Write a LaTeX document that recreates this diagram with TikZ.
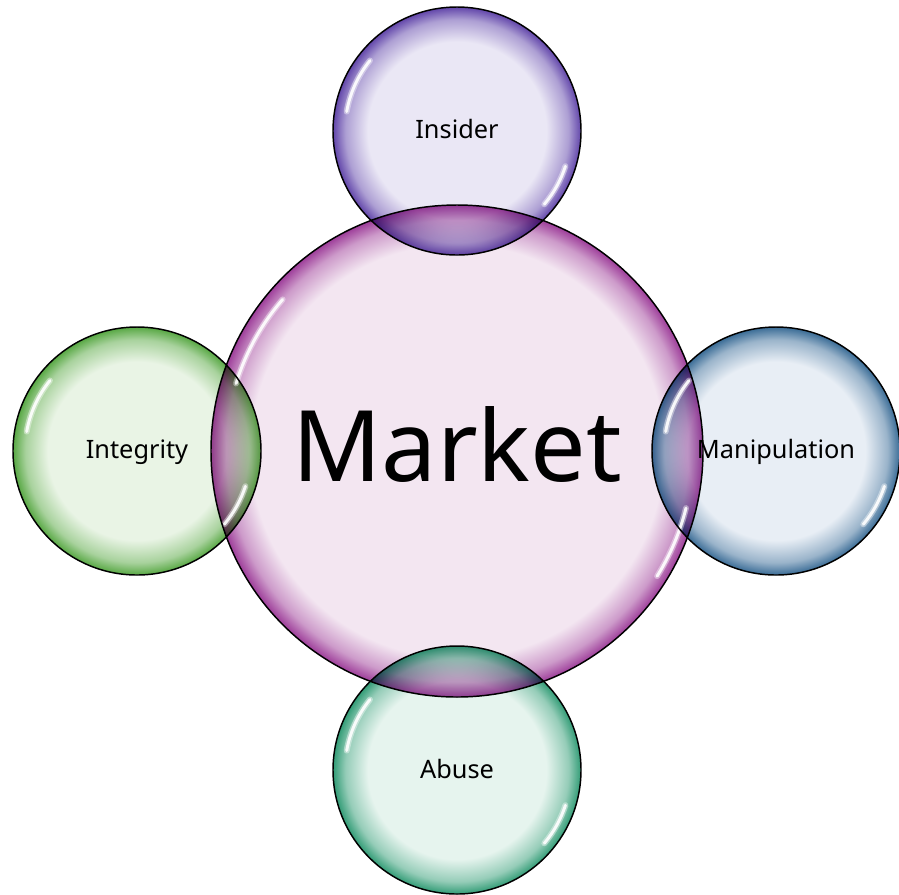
\documentclass[tikz,border=0pt]{standalone}
\usepackage{fontspec}
\setmainfont{Noto Sans}

\definecolor{marketfill}{RGB}{243,230,241}
\definecolor{marketrim}{RGB}{158,62,154}
\definecolor{insiderfill}{RGB}{234,231,245}
\definecolor{insiderrim}{RGB}{98,70,170}
\definecolor{integrityfill}{RGB}{233,244,229}
\definecolor{integrityrim}{RGB}{88,168,68}
\definecolor{manipfill}{RGB}{232,238,245}
\definecolor{maniprim}{RGB}{58,108,150}
\definecolor{abusefill}{RGB}{230,244,238}
\definecolor{abuserim}{RGB}{50,156,118}

\colorlet{marketmid}{marketrim!45!marketfill}
\colorlet{insidermid}{insiderrim!45!insiderfill}
\colorlet{integritymid}{integrityrim!45!integrityfill}
\colorlet{manipmid}{maniprim!45!manipfill}
\colorlet{abusemid}{abuserim!45!abusefill}

% glassy disc: flat inside, darkening towards the rim
\pgfdeclareradialshading{marketglass}{\pgfpointorigin}{color(0bp)=(marketfill); color(21bp)=(marketfill); color(23.5bp)=(marketmid); color(25bp)=(marketrim); color(50bp)=(marketrim)}
\pgfdeclareradialshading{insiderglass}{\pgfpointorigin}{color(0bp)=(insiderfill); color(18bp)=(insiderfill); color(22.5bp)=(insidermid); color(25bp)=(insiderrim); color(50bp)=(insiderrim)}
\pgfdeclareradialshading{integrityglass}{\pgfpointorigin}{color(0bp)=(integrityfill); color(18bp)=(integrityfill); color(22.5bp)=(integritymid); color(25bp)=(integrityrim); color(50bp)=(integrityrim)}
\pgfdeclareradialshading{manipglass}{\pgfpointorigin}{color(0bp)=(manipfill); color(18bp)=(manipfill); color(22.5bp)=(manipmid); color(25bp)=(maniprim); color(50bp)=(maniprim)}
\pgfdeclareradialshading{abuseglass}{\pgfpointorigin}{color(0bp)=(abusefill); color(18bp)=(abusefill); color(22.5bp)=(abusemid); color(25bp)=(abuserim); color(50bp)=(abuserim)}

\begin{document}
\begin{tikzpicture}[x=0.75pt, y=0.75pt,
  glass/.style={blend mode=multiply},
  rim/.style={draw=black, line width=1.1pt},
  glow/.style={draw=white, line width=4.5pt, line cap=round, draw opacity=0.4},
  glint/.style={draw=white, line width=2.2pt, line cap=round, draw opacity=0.9},
  word/.style={anchor=base, text=black, inner sep=0pt, font=\fontsize{19}{22}\selectfont},
  bigword/.style={anchor=base, text=black, inner sep=0pt, font=\fontsize{74}{88}\selectfont}]

\useasboundingbox (0,0) rectangle (899,-894);

\coordinate (marketc) at (457,-451);
\coordinate (insiderc) at (457,-131);
\coordinate (integrityc) at (137,-451);
\coordinate (manipc) at (776,-451);
\coordinate (abusec) at (457,-770);

% discs
\shade[shading=marketglass] (marketc) circle[radius=246];
\foreach \c/\s in {insiderc/insiderglass, integrityc/integrityglass, manipc/manipglass, abusec/abuseglass}
  \shade[shading=\s, glass] (\c) circle[radius=124];

% highlights
\foreach \st in {glow, glint} {
  \draw[\st] (marketc) ++(139:231) arc[start angle=139, end angle=163, radius=231];
  \draw[\st] (marketc) ++(-14:236) arc[start angle=-14, end angle=-32, radius=236];
  \foreach \c in {insiderc, integrityc, manipc, abusec} {
    \draw[\st] (\c) ++(141:112) arc[start angle=141, end angle=170, radius=112];
    \draw[\st] (\c) ++(-18:114) arc[start angle=-18, end angle=-40, radius=114];
  }
}

% outlines on top
\draw[rim] (marketc) circle[radius=246];
\foreach \c in {insiderc, integrityc, manipc, abusec}
  \draw[rim] (\c) circle[radius=124];

% labels
\node[bigword] (market) at (457,-481) {Market};
\node[word] (insider) at (457,-138) {Insider};
\node[word] (integrity) at (137,-458) {Integrity};
\node[word] (manip) at (776,-458) {Manipulation};
\node[word] (abuse) at (457,-778) {Abuse};

\end{tikzpicture}
\end{document}
